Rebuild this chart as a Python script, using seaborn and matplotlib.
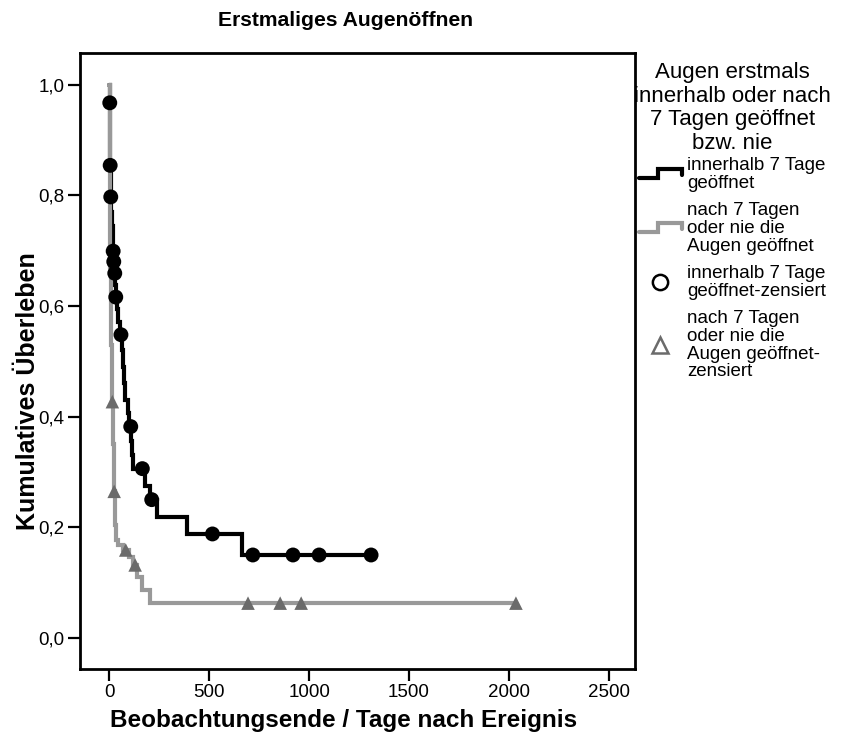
import numpy as np
import pandas as pd
import matplotlib
matplotlib.use("Agg")
import matplotlib.pyplot as plt
import seaborn as sns
from matplotlib.lines import Line2D
from matplotlib.legend_handler import HandlerBase

# Kaplan-Meier estimates per group: days at which the curve steps down and the level after the step
early_times = [0, 1, 3, 4, 6, 7, 10, 13, 16, 18, 21, 26, 29, 31, 36, 45, 52, 63, 68, 73,
               78, 95, 100, 110, 115, 120, 178, 204, 237, 390, 662]
early_surv = [1.0, 0.967, 0.91, 0.854, 0.826, 0.797, 0.77, 0.745, 0.72, 0.699, 0.680, 0.659,
              0.638, 0.616, 0.594, 0.571, 0.548, 0.52, 0.49, 0.46, 0.43, 0.406, 0.382, 0.356,
              0.33, 0.306, 0.275, 0.250, 0.219, 0.188, 0.150]
early_censored = [2, 4, 7, 19, 22, 27, 32, 58, 107, 165, 212, 516, 718, 919, 1050, 1310]

late_times = [0, 1, 2, 3, 4, 5, 7, 9, 11, 13, 17, 19, 21, 23, 26, 29, 32, 45, 70, 100,
              120, 140, 162, 204]
late_surv = [1.0, 0.93, 0.87, 0.80, 0.73, 0.67, 0.60, 0.53, 0.47, 0.427, 0.39, 0.35, 0.31,
             0.265, 0.235, 0.205, 0.177, 0.168, 0.159, 0.146, 0.132, 0.11, 0.087, 0.063]
late_censored = [15, 24, 82, 129, 694, 855, 960, 2035]

group_labels = ["innerhalb 7 Tage\ngeöffnet",
                "nach 7 Tagen\noder nie die\nAugen geöffnet"]
censor_labels = ["innerhalb 7 Tage\ngeöffnet-zensiert",
                 "nach 7 Tagen\noder nie die\nAugen geöffnet-\nzensiert"]
legend_title = "Augen erstmals\ninnerhalb oder nach\n7 Tagen geöffnet\nbzw. nie"
x_ticks = [0, 500, 1000, 1500, 2000, 2500]
y_ticks = [0.0, 0.2, 0.4, 0.6, 0.8, 1.0]

LINE_COLORS = ["#000000", "#999999"]
MARK_COLORS = ["#000000", "#6b6b6b"]
FONT = ["Liberation Sans", "DejaVu Sans"]


def level_at(times, surv, t):
    idx = np.searchsorted(times, t, side="right") - 1
    return np.asarray(surv)[idx]


def curve_frame(times, surv, censored):
    end = max(max(censored), max(times))
    return pd.DataFrame({"t": list(times) + [end], "s": list(surv) + [surv[-1]]})


sns.set_theme(style="white")
plt.rcParams["font.family"] = FONT
plt.rcParams["text.color"] = "black"
plt.rcParams["axes.labelcolor"] = "black"
plt.rcParams["xtick.color"] = "black"
plt.rcParams["ytick.color"] = "black"

fig = plt.figure(figsize=(8.44, 7.38), dpi=100)
ax = fig.add_axes([80 / 844, 1 - 669 / 738, 555 / 844, 616 / 738])

groups = [(early_times, early_surv, early_censored), (late_times, late_surv, late_censored)]
for i, (times, surv, cens) in enumerate(groups):
    df = curve_frame(times, surv, cens)
    sns.lineplot(data=df, x="t", y="s", drawstyle="steps-post", estimator=None,
                 color=LINE_COLORS[i], linewidth=3.0, ax=ax, zorder=2 + i,
                 solid_joinstyle="miter")

mark_styles = ["o", "^"]
mark_sizes = [115, 95]
for i, (times, surv, cens) in enumerate(groups):
    cdf = pd.DataFrame({"t": cens, "s": [level_at(times, surv, c) for c in cens]})
    sns.scatterplot(data=cdf, x="t", y="s", marker=mark_styles[i], s=mark_sizes[i],
                    color=MARK_COLORS[i], edgecolor="none", linewidth=0, ax=ax, zorder=5)

ax.set_xlim(-147, 2631)
ax.set_ylim(-0.056, 1.057)
ax.set_xticks(x_ticks)
ax.set_xticklabels([str(v) for v in x_ticks])
ax.set_yticks(y_ticks)
ax.set_yticklabels([f"{v:.1f}".replace(".", ",") for v in y_ticks])
ax.tick_params(axis="both", which="major", direction="out", length=8.5, width=1.6,
               color="black", labelsize=13.5, labelcolor="black", pad=2.5,
               left=True, bottom=True)
for sp in ax.spines.values():
    sp.set_visible(True)
    sp.set_color("black")
    sp.set_linewidth(2.0)
ax.grid(False)

ax.set_xlabel("Beobachtungsende / Tage nach Ereignis", fontsize=17.5, fontweight="bold",
              color="black", va="center")
ax.xaxis.set_label_coords((344 - 80) / 555, -(720 - 669) / 616)
ax.set_ylabel("Kumulatives Überleben", fontsize=18, fontweight="bold",
              color="black", va="center")
ax.yaxis.set_label_coords(-(80 - 28) / 555, (669 - 391) / 616)

fig.text(345 / 844, 1 - 21 / 738, "Erstmaliges Augenöffnen", ha="center", va="center",
         fontsize=15.2, fontweight="bold", color="black")


class StepHandle(HandlerBase):
    """Legend key drawn as a small survival-curve step."""

    def create_artists(self, legend, orig_handle, xdescent, ydescent, width, height,
                       fontsize, trans):
        xs = np.array([0.0, 0.45, 0.45, 1.0, 1.0]) * width - xdescent
        ys = np.array([0.24, 0.24, 0.9, 0.9, 0.42]) * height - ydescent
        ln = Line2D(xs, ys, color=orig_handle.get_color(),
                    linewidth=orig_handle.get_linewidth(), solid_joinstyle="miter",
                    transform=trans)
        return [ln]


handles = [
    Line2D([], [], color=LINE_COLORS[0], linewidth=3.0),
    Line2D([], [], color=LINE_COLORS[1], linewidth=3.0),
    Line2D([], [], linestyle="none", marker="o", markersize=11, markerfacecolor="white",
           markeredgecolor="black", markeredgewidth=1.8),
    Line2D([], [], linestyle="none", marker="^", markersize=11, markerfacecolor="white",
           markeredgecolor=MARK_COLORS[1], markeredgewidth=1.8),
]
labels = group_labels + censor_labels
leg = fig.legend(handles, labels, title=legend_title, loc="upper left",
                 bbox_to_anchor=(634 / 844, 1 - 62 / 738), frameon=False,
                 fontsize=13.5, title_fontsize=16, borderpad=0, borderaxespad=0,
                 handlelength=2.3, handletextpad=0.3, labelspacing=0.55,
                 labelcolor="black",
                 handler_map={handles[0]: StepHandle(), handles[1]: StepHandle()})
leg.get_title().set_multialignment("center")
leg.get_title().set_linespacing(1.17)
leg.get_title().set_color("black")
for t in leg.get_texts():
    t.set_linespacing(1.06)
# tighter gap between the legend title and the first entry
leg._legend_box.sep = 2.0

fig.savefig("out.png", dpi=100)
